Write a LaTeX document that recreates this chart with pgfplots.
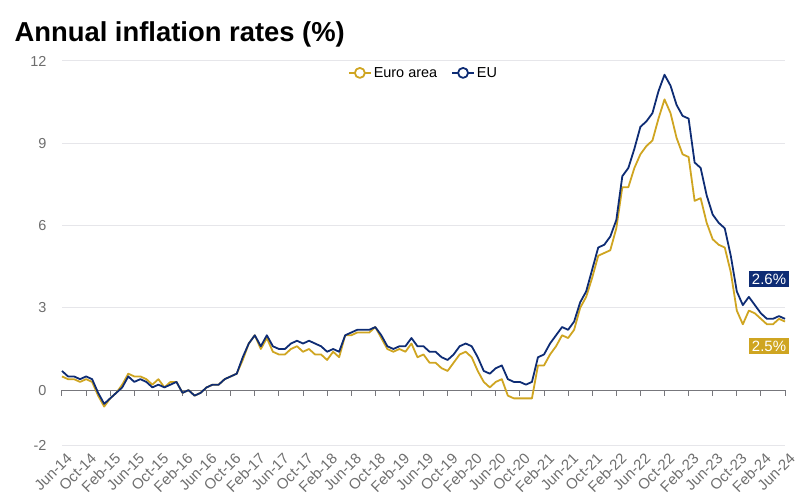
\documentclass[border=0pt]{standalone}
\usepackage{pgfplots}
\pgfplotsset{compat=1.18}
\usepackage{pgfplotstable}
\usepackage{fontspec}
\setmainfont{Liberation Sans}

\definecolor{eublue}{HTML}{0E2C74}
\definecolor{eagold}{HTML}{CFA521}
\definecolor{ticktext}{HTML}{6E6E6E}
\definecolor{gridc}{HTML}{E6E6EA}
\definecolor{zeroc}{HTML}{77777C}

% month index (0 = Jun-14), euro area, EU
\pgfplotstableread{
idx ea eu
0 0.5 0.7
1 0.4 0.5
2 0.4 0.5
3 0.3 0.4
4 0.4 0.5
5 0.3 0.4
6 -0.2 -0.1
7 -0.6 -0.5
8 -0.3 -0.3
9 -0.1 -0.1
10 0.2 0.1
11 0.6 0.5
12 0.5 0.3
13 0.5 0.4
14 0.4 0.3
15 0.2 0.1
16 0.4 0.2
17 0.1 0.1
18 0.3 0.2
19 0.3 0.3
20 -0.1 -0.1
21 0.0 0.0
22 -0.2 -0.2
23 -0.1 -0.1
24 0.1 0.1
25 0.2 0.2
26 0.2 0.2
27 0.4 0.4
28 0.5 0.5
29 0.6 0.6
30 1.1 1.2
31 1.7 1.7
32 2.0 2.0
33 1.5 1.6
34 1.9 2.0
35 1.4 1.6
36 1.3 1.5
37 1.3 1.5
38 1.5 1.7
39 1.6 1.8
40 1.4 1.7
41 1.5 1.8
42 1.3 1.7
43 1.3 1.6
44 1.1 1.4
45 1.4 1.5
46 1.2 1.4
47 2.0 2.0
48 2.0 2.1
49 2.1 2.2
50 2.1 2.2
51 2.1 2.2
52 2.3 2.3
53 1.9 2.0
54 1.5 1.6
55 1.4 1.5
56 1.5 1.6
57 1.4 1.6
58 1.7 1.9
59 1.2 1.6
60 1.3 1.6
61 1.0 1.4
62 1.0 1.4
63 0.8 1.2
64 0.7 1.1
65 1.0 1.3
66 1.3 1.6
67 1.4 1.7
68 1.2 1.6
69 0.7 1.2
70 0.3 0.7
71 0.1 0.6
72 0.3 0.8
73 0.4 0.9
74 -0.2 0.4
75 -0.3 0.3
76 -0.3 0.3
77 -0.3 0.2
78 -0.3 0.3
79 0.9 1.2
80 0.9 1.3
81 1.3 1.7
82 1.6 2.0
83 2.0 2.3
84 1.9 2.2
85 2.2 2.5
86 3.0 3.2
87 3.4 3.6
88 4.1 4.4
89 4.9 5.2
90 5.0 5.3
91 5.1 5.6
92 5.9 6.2
93 7.4 7.8
94 7.4 8.1
95 8.1 8.8
96 8.6 9.6
97 8.9 9.8
98 9.1 10.1
99 9.9 10.9
100 10.6 11.5
101 10.1 11.1
102 9.2 10.4
103 8.6 10.0
104 8.5 9.9
105 6.9 8.3
106 7.0 8.1
107 6.1 7.1
108 5.5 6.4
109 5.3 6.1
110 5.2 5.9
111 4.3 4.9
112 2.9 3.6
113 2.4 3.1
114 2.9 3.4
115 2.8 3.1
116 2.6 2.8
117 2.4 2.6
118 2.4 2.6
119 2.6 2.7
120 2.5 2.6
}\inflation

\begin{document}
\begin{tikzpicture}
\useasboundingbox (0,0) rectangle (800bp,504bp);
\node[anchor=base west, font=\bfseries\fontsize{27.5}{32}\selectfont] at (11bp,462bp) {Annual inflation rates (\%)};
\begin{axis}[
  at={(62bp,59bp)}, anchor=south west,
  scale only axis,
  width=723bp, height=384bp,
  xmin=0, xmax=120,
  ymin=-2, ymax=12,
  axis line style={draw=none},
  ytick={-2,0,3,6,9,12},
  ymajorgrids,
  grid style={gridc, line width=1bp},
  major tick length=0pt,
  xtick={0,4,...,120},
  xticklabels={Jun-14,Oct-14,Feb-15,Jun-15,Oct-15,Feb-16,Jun-16,Oct-16,Feb-17,Jun-17,Oct-17,Feb-18,Jun-18,Oct-18,Feb-19,Jun-19,Oct-19,Feb-20,Jun-20,Oct-20,Feb-21,Jun-21,Oct-21,Feb-22,Jun-22,Oct-22,Feb-23,Jun-23,Oct-23,Feb-24,Jun-24},
  xticklabel style={rotate=45, anchor=east, font=\fontsize{15}{17}\selectfont, text=ticktext, xshift=1bp, yshift=-13bp},
  yticklabel style={font=\fontsize{14.5}{16}\selectfont, text=ticktext, xshift=-12bp},
  /pgf/number format/assume math mode=true,
  legend style={at={(0.5,1)}, anchor=north, yshift=-2bp, draw=none, fill=none,
    legend columns=2, font=\fontsize{14.5}{16}\selectfont,
    /tikz/every even column/.append style={column sep=12bp}},
  legend image code/.code={
    \draw[#1] (0bp,0bp) -- (22bp,0bp);
    \draw[#1, fill=white] (11bp,0bp) circle (5bp);
  },
  clip=false,
]
\draw[zeroc, line width=1.2bp] (axis cs:0,0) -- (axis cs:120,0);
\pgfplotsinvokeforeach{0,4,...,120}{
  \draw[zeroc, line width=1bp] (axis cs:#1,0) -- ++(0bp,-6bp);
}
\addplot[eagold, line width=1.8bp, line join=round] table[x=idx, y=ea] {\inflation};
\addlegendentry{Euro area}
\addplot[eublue, line width=1.8bp, line join=round] table[x=idx, y=eu] {\inflation};
\addlegendentry{EU}
\node[fill=eublue, text=white, inner sep=2.5bp, font=\fontsize{15}{17}\selectfont, xshift=-16bp] at (axis cs:120,4.05) {2.6\%};
\node[fill=eagold, text=white, inner sep=2.5bp, font=\fontsize{15}{17}\selectfont, xshift=-16bp] at (axis cs:120,1.6) {2.5\%};
\end{axis}
\end{tikzpicture}
\end{document}
